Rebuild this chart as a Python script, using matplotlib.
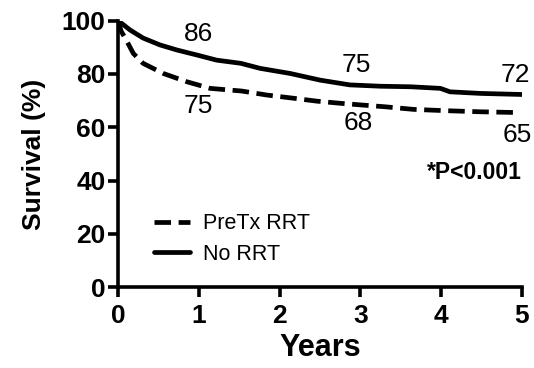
import matplotlib
matplotlib.use("Agg")
import matplotlib.pyplot as plt

plt.rcParams['font.family'] = ['Liberation Sans', 'DejaVu Sans']

# survival curves (years, %)
no_rrt_t = [0, 0.02, 0.15, 0.31, 0.52, 0.73, 0.98, 1.22, 1.52, 1.76, 2.13, 2.5, 2.87,
            3.25, 3.62, 3.99, 4.11, 4.49, 5.0]
no_rrt_s = [100, 99.6, 96.5, 93.5, 90.9, 89.0, 87.1, 85.2, 84.0, 82.1, 80.2, 77.7, 75.9,
            75.4, 75.2, 74.6, 73.3, 72.7, 72.3]

pretx_t = [0, 0.04, 0.09, 0.19, 0.31, 0.56, 0.85, 1.14, 1.53, 1.84, 2.17, 2.46, 2.75,
           3.04, 3.3, 3.66, 4.07, 4.49, 4.98]
pretx_s = [100, 96.0, 93.4, 87.7, 84.0, 80.2, 77.1, 74.6, 73.6, 72.1, 70.9, 69.8, 69.0,
           68.3, 67.7, 66.7, 66.2, 65.8, 65.5]

# annotated survival numbers: (x, y, text)
notes_x = [1.0, 1.0, 2.95, 2.97, 4.92, 4.94]
notes_y = [95, 68, 83.4, 61.5, 79.6, 57]
notes_txt = ["86", "75", "75", "68", "72", "65"]

fig = plt.figure(figsize=(5.34, 3.68), dpi=100)
ax = fig.add_axes([0.221, 0.22, 0.7565, 0.7237])

ax.plot(pretx_t, pretx_s, color="black", lw=3.4, ls=(0, (3.5, 1.6)),
        label="PreTx RRT", solid_capstyle="round")
ax.plot(no_rrt_t, no_rrt_s, color="black", lw=3.4, label="No RRT",
        solid_capstyle="round")

for x, y, s in zip(notes_x, notes_y, notes_txt):
    ax.text(x, y, s, ha="center", va="center", fontsize=19)

ax.text(5.0, 43, "*P<0.001", ha="right", va="center", fontsize=16.5,
        fontweight="bold")

ax.set_xlim(0, 5)
ax.set_ylim(0, 100)
ax.set_xticks([0, 1, 2, 3, 4, 5])
ax.set_yticks([0, 20, 40, 60, 80, 100])

for side in ["top", "right"]:
    ax.spines[side].set_visible(False)
for side in ["left", "bottom"]:
    ax.spines[side].set_linewidth(2.6)

ax.tick_params(width=2.6, length=7, labelsize=19)
ax.tick_params(axis="x", pad=5)
ax.tick_params(axis="y", pad=2)
for lab in ax.get_xticklabels() + ax.get_yticklabels():
    lab.set_fontweight("bold")

ax.set_xlabel("Years", fontsize=22, fontweight="bold", labelpad=4)
ax.set_ylabel("Survival (%)", fontsize=19, fontweight="bold", labelpad=11)

ax.legend(loc="center left", bbox_to_anchor=(0.04, 0.18), frameon=False,
          fontsize=15.5, handlelength=1.7, handletextpad=0.6, labelspacing=0.45)

fig.savefig("out.png", dpi=100)
